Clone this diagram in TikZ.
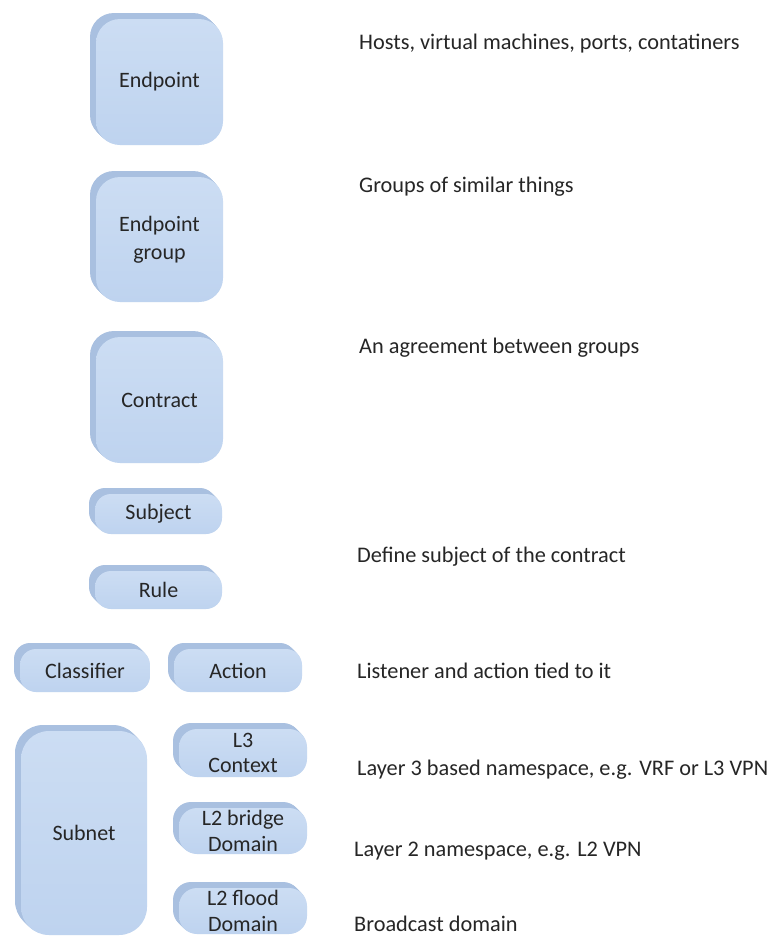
\documentclass[tikz,border=0pt]{standalone}
\usepackage{fontspec}
\setmainfont{Carlito}
\usetikzlibrary{shadows}
\definecolor{facetop}{HTML}{CCDDF3}
\definecolor{facebot}{HTML}{BED3EF}
\definecolor{bevel}{HTML}{A9C0E0}
\definecolor{ink}{HTML}{262626}
\tikzset{
  % extruded edge: the face outline swept up and to the left
  extrude/.style={general shadow={fill=bevel, shadow xshift=-#1, shadow yshift=#1}},
  block/.style={
    rounded corners=#1, draw=none,
    top color=facetop, bottom color=facebot,
    extrude=6pt, extrude=5pt, extrude=4pt, extrude=3pt, extrude=2pt, extrude=1pt,
    text=ink, font=\fontsize{22}{28}\selectfont, align=center,
    inner sep=0pt, anchor=center},
  block/.default=24pt,
  tight/.style={font=\fontsize{22}{25.5}\selectfont},
  note/.style={text=ink, font=\fontsize{22.3}{26}\selectfont, anchor=west, inner sep=0pt}
}
\begin{document}
\begin{tikzpicture}[x=1pt,y=-1pt]
\useasboundingbox (0,0) rectangle (769,937);
\fill[white] (0,0) rectangle (769,937);

% stacked policy objects
\node[block, minimum width=127pt, minimum height=126pt] (endpoint) at (159.5,82) {Endpoint};
\node[block, minimum width=127pt, minimum height=125pt] (epg) at (159.5,239.5) {Endpoint\\group};
\node[block, minimum width=127pt, minimum height=126pt] (contract) at (159.5,400) {Contract};
\node[block=16pt, minimum width=127pt, minimum height=40pt] (subject) at (158.5,514) {Subject};
\node[block=16pt, minimum width=127pt, minimum height=38pt] (rule) at (158.5,590) {Rule};
\node[block=16pt, minimum width=130pt, minimum height=43pt] (classifier) at (85,670.5) {Classifier};
\node[block=16pt, minimum width=128pt, minimum height=43pt] (action) at (238,670.5) {Action};

% forwarding objects
\node[block=28pt, minimum width=126pt, minimum height=204pt] (subnet) at (84,833) {Subnet};
\node[block=18pt, tight, minimum width=128pt, minimum height=48pt] (l3) at (243,753) {L3\\Context};
\node[block=18pt, tight, minimum width=128pt, minimum height=46pt] (l2b) at (243,831) {L2 bridge\\Domain};
\node[block=18pt, tight, minimum width=128pt, minimum height=46pt] (l2f) at (243,911) {L2 flood\\Domain};

% descriptions
\node[note] (d1) at (359,44) {Hosts, virtual machines, ports, contatiners};
\node[note] (d2) at (359,187) {Groups of similar things};
\node[note] (d3) at (359,348) {An agreement between groups};
\node[note] (d4) at (357,557) {Define subject of the contract};
\node[note] (d5) at (357,671) {Listener and action tied to it};
\node[note] (d6) at (357,770) {Layer 3 based namespace, e.g. VRF or L3 VPN};
\node[note] (d7) at (354,851) {Layer 2 namespace, e.g. L2 VPN};
\node[note] (d8) at (354,924) {Broadcast domain};
\end{tikzpicture}
\end{document}
